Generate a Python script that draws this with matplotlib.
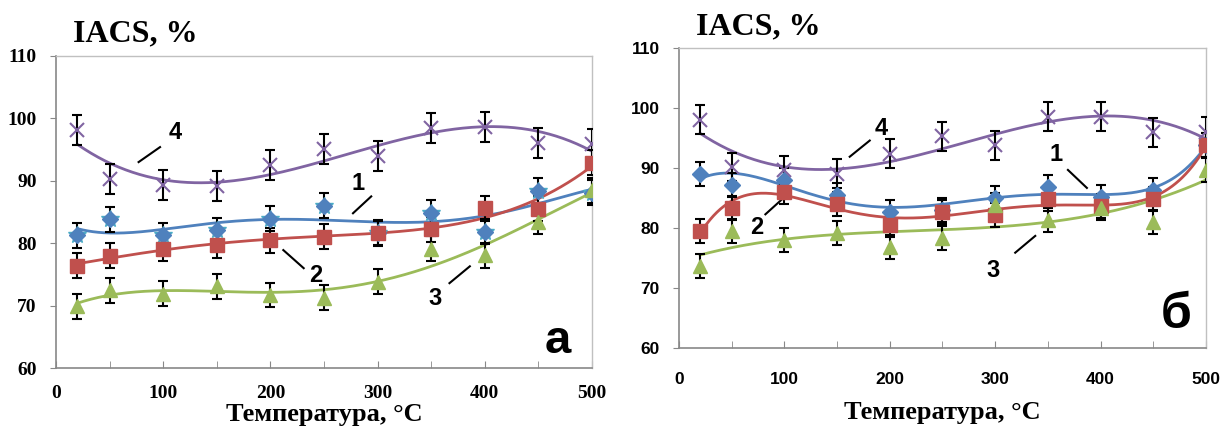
import numpy as np
import matplotlib
matplotlib.use("Agg")
import matplotlib.pyplot as plt
from matplotlib.ticker import MultipleLocator

# temperatures, °C
temps = [20, 50, 100, 150, 200, 250, 300, 350, 400, 450, 500]

# panel a
a_s1 = [81.3, 83.8, 81.3, 82.1, 83.9, 86.0, 81.6, 84.9, 81.8, 88.4, 88.1]
a_s2 = [76.4, 78.0, 79.1, 79.7, 80.5, 81.0, 81.7, 82.2, 85.6, 85.5, 92.9]
a_s3 = [69.9, 72.5, 71.9, 73.1, 71.7, 71.3, 73.8, 79.1, 78.1, 83.4, 88.5]
a_s4 = [98.1, 90.3, 89.3, 89.2, 92.5, 95.1, 93.9, 98.4, 98.6, 96.1, 95.9]

# panel б
b_s1 = [89.1, 87.2, 88.1, 85.6, 82.7, 83.0, 85.1, 86.9, 85.2, 86.3, 93.9]
b_s2 = [79.6, 83.4, 86.0, 84.1, 80.5, 82.7, 82.2, 84.8, 83.7, 84.9, 93.8]
b_s3 = [73.7, 79.6, 78.0, 79.2, 76.8, 78.3, 83.8, 81.4, 83.3, 81.0, 89.7]
b_s4 = [98.1, 90.2, 89.7, 89.1, 92.4, 95.3, 93.8, 98.6, 98.6, 96.0, 96.1]

# polynomial trendline order for each curve
a_deg = [5, 4, 4, 3]
b_deg = [5, 5, 3, 3]

err_small = 2.0
err_big = 2.4

colors = ["#4F81BD", "#C0504D", "#9BBB59", "#8064A2"]
markers = ["D", "s", "^", "x"]
msizes = [8, 10, 10, 10]

serif = "Liberation Serif"
sans = "Liberation Sans"

fig = plt.figure(figsize=(12.24, 4.34), dpi=100)
ax_a = fig.add_axes([0.0458, 0.152, 0.4379, 0.719])
ax_b = fig.add_axes([0.5547, 0.198, 0.4306, 0.691])


def draw(ax, series, degs, tickfont, stars):
    xs = np.linspace(20, 500, 300)
    for k, ys in enumerate(series):
        err = err_big if k == 3 else err_small
        p = np.polynomial.Polynomial.fit(temps, ys, degs[k])
        ax.plot(xs, p(xs), color=colors[k], lw=2, zorder=3)
        ax.errorbar(temps, ys, yerr=err, fmt="none", ecolor="black",
                    elinewidth=1.5, capsize=3.5, capthick=1.5, zorder=4)
        if markers[k] == "x":
            ax.plot(temps, ys, ls="none", marker="x", ms=msizes[k],
                    mew=1.5, color=colors[k], zorder=5)
        else:
            if stars and k == 0:
                ax.plot(temps, ys, ls="none", marker="*", ms=13,
                        color="#4BACC6", zorder=4.5)
            ax.plot(temps, ys, ls="none", marker=markers[k], ms=msizes[k],
                    color=colors[k], mec=colors[k], zorder=5)

    ax.set_xlim(0, 500)
    ax.set_ylim(60, 110)
    ax.xaxis.set_major_locator(MultipleLocator(100))
    ax.xaxis.set_minor_locator(MultipleLocator(50))
    ax.yaxis.set_major_locator(MultipleLocator(10))
    ax.tick_params(axis="x", which="both", direction="in", length=5,
                   color="#888888")
    ax.tick_params(axis="y", direction="out", length=4, color="#888888", pad=10)
    for lab in ax.get_xticklabels() + ax.get_yticklabels():
        lab.set_fontfamily(tickfont)
        lab.set_fontweight("bold")
        lab.set_fontsize(14 if tickfont == serif else 12.5)
    for side in ["left", "bottom"]:
        ax.spines[side].set_color("#888888")
        ax.spines[side].set_linewidth(1.2)
    for side in ["top", "right"]:
        ax.spines[side].set_color("#c0c0c0")
        ax.spines[side].set_linewidth(1.0)
    ax.set_xlabel("Температура, °С", fontfamily=serif, fontweight="bold",
                  fontsize=19)


draw(ax_a, [a_s1, a_s2, a_s3, a_s4], a_deg, serif, True)
draw(ax_b, [b_s1, b_s2, b_s3, b_s4], b_deg, sans, False)

ax_a.tick_params(axis="x", pad=12)
ax_b.tick_params(axis="x", pad=17)
ax_a.xaxis.labelpad = 1
ax_b.xaxis.labelpad = 10

fig.text(0.060, 0.923, "IACS, %", fontfamily=serif, fontweight="bold",
         fontsize=23, va="center", ha="left")
fig.text(0.569, 0.937, "IACS, %", fontfamily=serif, fontweight="bold",
         fontsize=23, va="center", ha="left")

lab_kw = dict(fontfamily=sans, fontweight="bold", fontsize=17,
              ha="center", va="center")

# panel a curve labels
ax_a.text(111, 97.7, "4", **lab_kw)
ax_a.plot([77, 97], [93.0, 95.4], color="black", lw=1.5)
ax_a.text(282, 89.5, "1", **lab_kw)
ax_a.plot([277, 294], [84.8, 87.5], color="black", lw=1.5)
ax_a.text(242, 74.9, "2", **lab_kw)
ax_a.plot([212, 231], [78.9, 76.0], color="black", lw=1.5)
ax_a.text(354, 71.2, "3", **lab_kw)
ax_a.plot([367, 386], [73.6, 76.3], color="black", lw=1.5)
ax_a.text(468, 64.3, "a", fontfamily=sans, fontweight="bold", fontsize=34,
          ha="center", va="center")

# panel б curve labels
ax_b.text(192, 96.6, "4", **lab_kw)
ax_b.plot([162, 181], [91.9, 94.6], color="black", lw=1.5)
ax_b.text(358, 92.2, "1", **lab_kw)
ax_b.plot([369, 387], [89.7, 86.7], color="black", lw=1.5)
ax_b.text(74, 80.1, "2", **lab_kw)
ax_b.plot([82, 99], [82.3, 85.0], color="black", lw=1.5)
ax_b.text(298, 73.0, "3", **lab_kw)
ax_b.plot([319, 338], [75.9, 78.7], color="black", lw=1.5)
ax_b.text(472, 65.5, "б", fontfamily=sans, fontweight="bold", fontsize=36,
          ha="center", va="center")

fig.savefig("out.png", dpi=100)
